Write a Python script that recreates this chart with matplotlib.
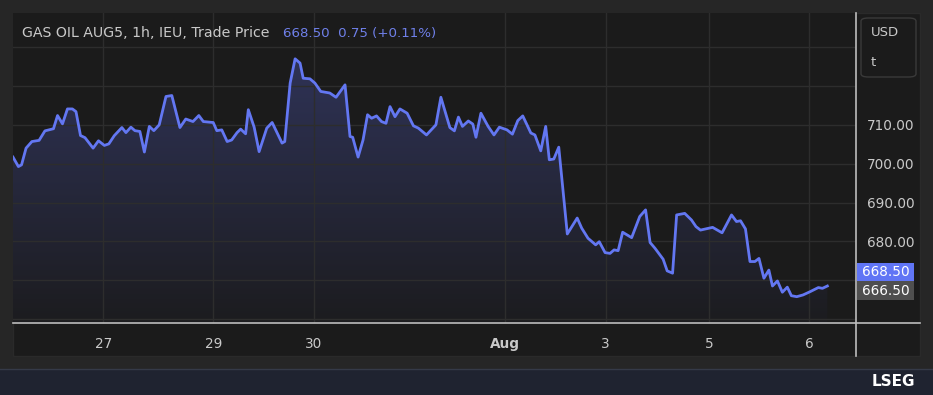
import numpy as np
import matplotlib
matplotlib.use('Agg')
import matplotlib.pyplot as plt
from matplotlib.patches import Rectangle, FancyBboxPatch
from matplotlib.colors import LinearSegmentedColormap
from matplotlib.lines import Line2D

# trading-hour index of each vertex
hours = [0.0, 1.2, 1.9, 2.9, 4.2, 5.8, 7.1, 9.0, 9.9, 11.0, 12.1, 13.2, 14.0, 15.0, 16.0,
         17.8, 19.0, 20.3, 21.3, 22.5, 24.2, 25.1, 26.2, 27.1, 28.2, 29.2, 30.3, 31.3, 32.5,
         34.0, 35.3, 37.1, 38.4, 40.0, 41.3, 42.3, 44.5, 45.3, 46.4, 47.6, 48.6, 49.8, 50.6,
         51.7, 52.3, 53.6, 54.7, 56.4, 57.6, 59.8, 60.4, 61.6, 62.7, 63.8, 64.5, 66.0, 67.1,
         68.4, 70.4, 71.8, 73.8, 74.9, 75.5, 76.7, 77.8, 78.8, 79.7, 80.8, 81.9, 82.9, 83.8,
         84.9, 86.0, 87.6, 89.0, 90.1, 91.9, 94.0, 95.1, 97.1, 98.1, 99.0, 99.9, 101.2, 102.2,
         102.9, 104.0, 105.6, 106.9, 108.1, 109.8, 111.0, 112.2, 113.3, 115.1, 116.0, 117.3,
         118.4, 119.2, 120.2, 121.3, 123.2, 125.4, 126.4, 127.8, 129.5, 130.3, 131.6, 132.7,
         133.6, 134.5, 135.5, 137.5, 139.3, 140.6, 141.6, 142.7, 144.5, 145.4, 146.6, 147.5,
         149.3, 150.8, 151.8, 152.8, 155.5, 157.6, 159.7, 160.8, 161.7, 162.8, 163.8, 164.9,
         165.8, 166.9, 168.0, 168.8, 169.9, 171.0, 172.1, 173.0, 174.2, 175.6, 177.1, 179.0,
         179.9, 181.0]

price = [701.7, 699.25, 699.7, 704.0, 705.7, 706.0, 708.45, 709.0, 712.4, 710.25, 714.1,
         714.1, 713.4, 707.25, 706.7, 704.0, 705.9, 704.7, 705.1, 707.2, 709.3, 708.0, 709.4,
         708.5, 708.3, 703.0, 709.6, 708.5, 710.0, 717.3, 717.55, 709.3, 711.5, 710.85, 712.4,
         710.85, 710.6, 708.5, 708.7, 705.7, 706.1, 708.0, 708.9, 707.7, 713.9, 709.4, 703.1,
         709.15, 710.6, 705.3, 705.7, 720.75, 727.0, 725.9, 722.0, 721.85, 720.75, 718.6,
         718.2, 717.1, 720.3, 707.0, 706.8, 701.7, 706.1, 712.6, 711.7, 712.3, 710.85, 710.4,
         714.7, 712.1, 714.1, 713.0, 709.75, 709.15, 707.4, 710.0, 717.1, 709.3, 708.45, 712.0,
         709.6, 711.0, 710.2, 706.8, 713.0, 709.6, 707.4, 709.4, 708.7, 707.6, 711.1, 712.3,
         707.9, 707.4, 703.3, 709.6, 701.0, 701.2, 704.25, 681.9, 686.0, 683.4, 680.8, 679.1,
         679.9, 677.1, 676.9, 677.8, 677.6, 682.35, 680.95, 686.4, 688.1, 679.7, 678.2, 675.4,
         672.4, 671.8, 686.8, 687.2, 685.5, 683.8, 682.9, 683.6, 682.2, 686.8, 685.1, 685.3,
         683.2, 674.8, 674.8, 675.6, 670.5, 672.6, 668.5, 669.8, 666.9, 668.2, 666.0, 665.75,
         666.2, 667.0, 668.1, 667.9, 668.5]

x_ticks = [20.1, 44.5, 66.9, 109.3, 131.7, 154.7, 177.0]
x_labels = ['27', '29', '30', 'Aug', '3', '5', '6']
y_ticks = [660, 670, 680, 690, 700, 710, 720, 730]
y_labels = ['', '', '680.00', '690.00', '700.00', '710.00', '', '']

W, H = 933, 395
BG = '#262626'
PANEL = '#1b1b1b'
GRID = '#2d2d2d'
LINE = '#6377f2'
TXT = '#c9c9c9'


def fx(px):
    return px / W


def fy(py):
    return 1 - py / H


fig = plt.figure(figsize=(W / 100, H / 100), dpi=100, facecolor=BG)

# chart panel and bottom strip
fig.patches.append(Rectangle((fx(13), fy(356)), fx(920) - fx(13), fy(13) - fy(356),
                             transform=fig.transFigure, facecolor=PANEL, edgecolor='#2a2a2a',
                             lw=1, zorder=-2))
fig.patches.append(Rectangle((0, 0), 1, fy(369), transform=fig.transFigure,
                             facecolor='#1f2330', edgecolor='none', zorder=-2))
fig.lines.append(Line2D([0, 1], [fy(369), fy(369)], transform=fig.transFigure,
                        color='#353a48', lw=1, zorder=-1))

ax = fig.add_axes([fx(13), fy(322.7), fx(855.7) - fx(13), fy(13) - fy(322.7)])
ax.set_zorder(1)
ax.set_facecolor(PANEL)
ax.set_xlim(0, 187.3)
ax.set_ylim(659.05, 738.8)

# gradient area under the line
fill = ax.fill_between(hours, price, 659.05, color='none')
cmap = LinearSegmentedColormap.from_list('area', ['#1c1c1f', '#2f3357'])
grad = np.linspace(0, 1, 256).reshape(-1, 1)
im = ax.imshow(grad, cmap=cmap, aspect='auto', origin='lower',
               extent=[0, 187.3, 659.05, 728.0], zorder=1)
im.set_clip_path(fill.get_paths()[0], transform=ax.transData)

ax.plot(hours, price, color=LINE, lw=2, zorder=3, solid_joinstyle='round')

ax.set_xticks(x_ticks)
ax.set_xticklabels(x_labels)
ax.set_yticks(y_ticks)
ax.set_yticklabels(y_labels)
ax.yaxis.tick_right()
ax.tick_params(axis='both', length=0, colors=TXT, labelsize=9.8)
ax.tick_params(axis='x', pad=10)
ax.tick_params(axis='y', pad=8)
for lab in ax.get_xticklabels():
    if lab.get_text() == 'Aug':
        lab.set_fontweight('bold')
ax.grid(True, color=GRID, lw=1)
ax.set_axisbelow('line')
for s in ax.spines.values():
    s.set_visible(False)

# axis lines
fig.lines.append(Line2D([fx(13), fx(920)], [fy(322.7), fy(322.7)], transform=fig.transFigure,
                        color='#bdbdbd', lw=1.2, zorder=5))
fig.lines.append(Line2D([fx(855.7), fx(855.7)], [fy(13), fy(356)], transform=fig.transFigure,
                        color='#bdbdbd', lw=1.2, zorder=5))

# header
fig.text(fx(22), fy(33), 'GAS OIL AUG5, 1h, IEU, Trade Price', color=TXT,
         fontsize=10.2, va='center', ha='left', zorder=6)
fig.text(fx(283), fy(33), '668.50  0.75 (+0.11%)', color='#6f80ea',
         fontsize=9.6, va='center', ha='left', zorder=6)

# unit box
fig.patches.append(FancyBboxPatch((fx(861), fy(77)), fx(916) - fx(861), fy(18) - fy(77),
                                  boxstyle='round,pad=0,rounding_size=0.008',
                                  transform=fig.transFigure, facecolor=PANEL,
                                  edgecolor='#3a3a3a', lw=1, zorder=4))
fig.text(fx(871), fy(33), 'USD', color=TXT, fontsize=9.5, va='center', ha='left', zorder=6)
fig.text(fx(871), fy(63), 't', color=TXT, fontsize=9.5, va='center', ha='left', zorder=6)

# price tags
fig.patches.append(Rectangle((fx(856.5), fy(281)), fx(914) - fx(856.5), fy(263) - fy(281),
                             transform=fig.transFigure, facecolor='#6075f5', edgecolor='none',
                             zorder=4))
fig.text(fx(886), fy(272.5), '668.50', color='white', fontsize=9.8, va='center',
         ha='center', zorder=6)
fig.patches.append(Rectangle((fx(856.5), fy(300)), fx(914) - fx(856.5), fy(281) - fy(300),
                             transform=fig.transFigure, facecolor='#4f4f4f', edgecolor='none',
                             zorder=4))
fig.text(fx(886), fy(291), '666.50', color='white', fontsize=9.8, va='center',
         ha='center', zorder=6)

# footer logo
fig.text(fx(915), fy(382), 'LSEG', color='white', fontsize=11, fontweight='bold',
         va='center', ha='right', zorder=6)

fig.savefig('out.png', dpi=100, facecolor=BG)
